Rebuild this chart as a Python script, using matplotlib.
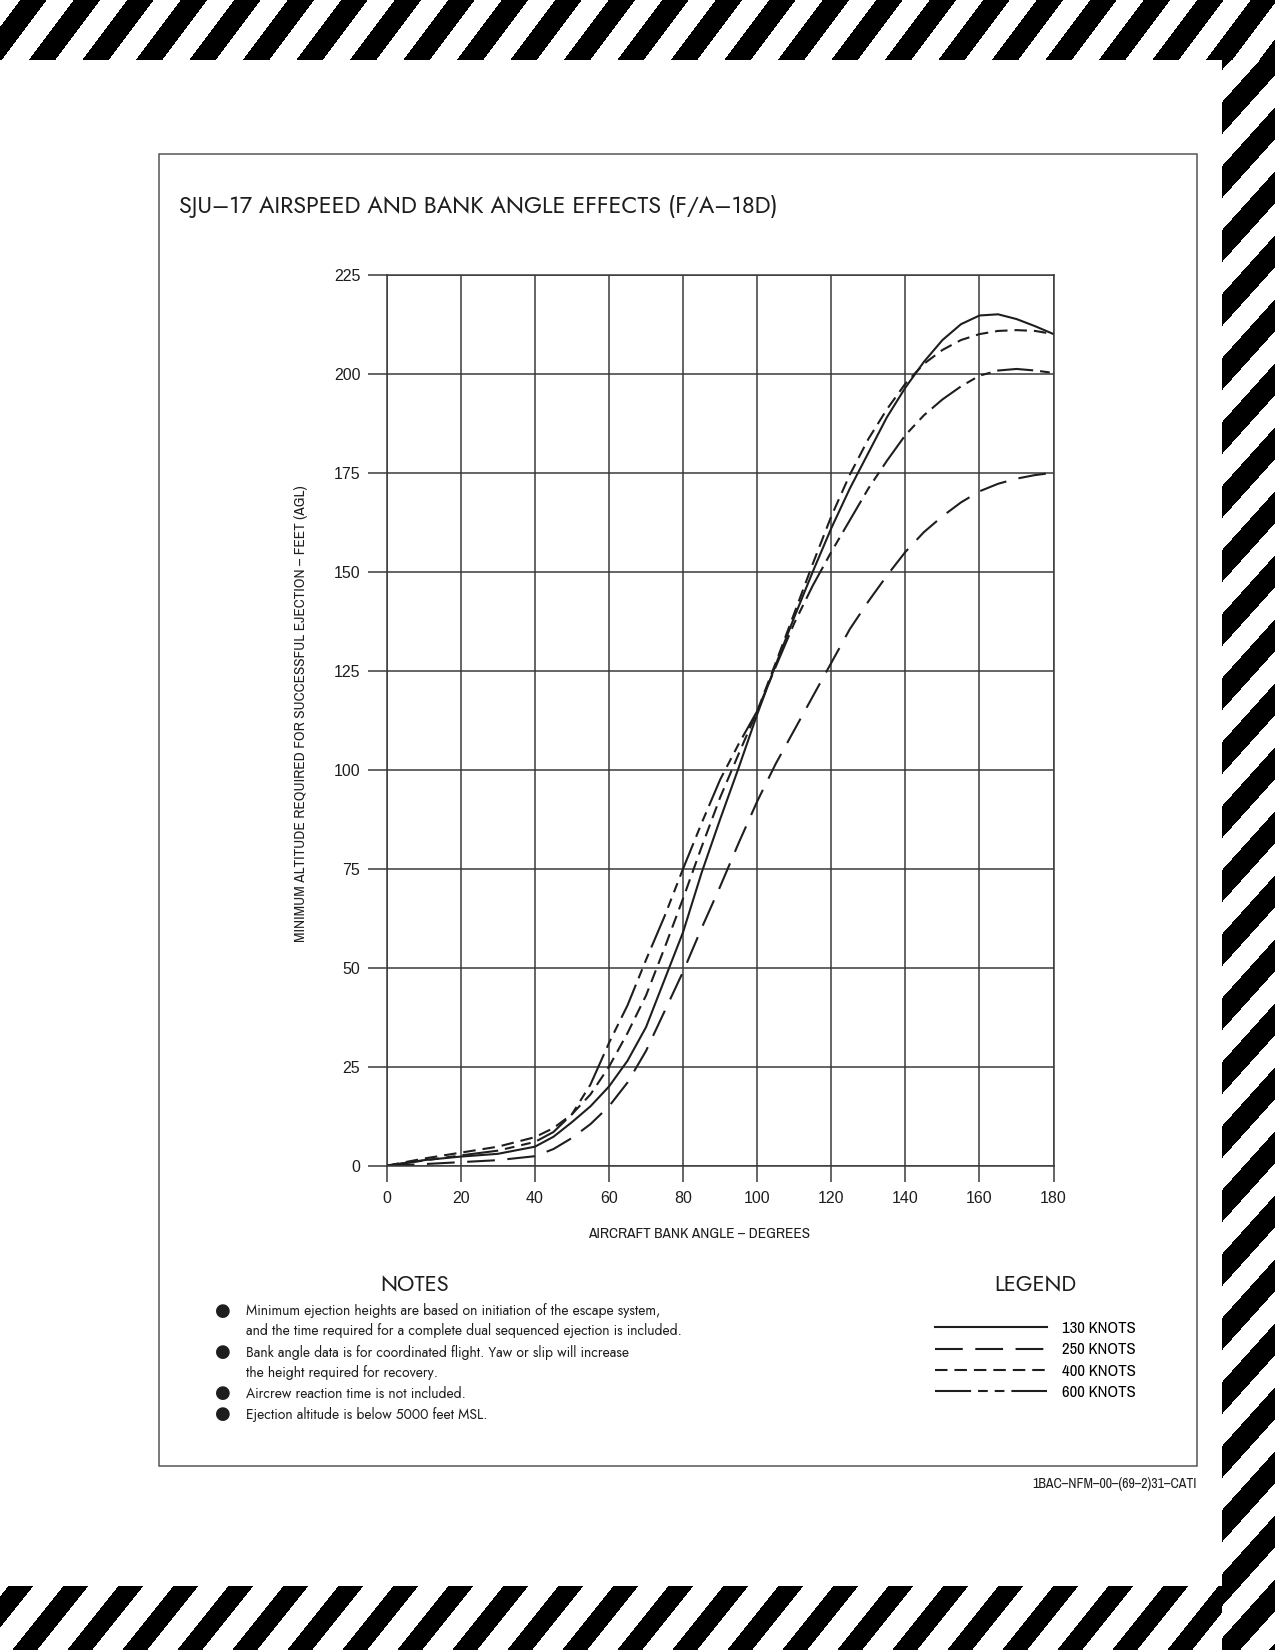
import numpy as np
import matplotlib
matplotlib.use("Agg")
import matplotlib.pyplot as plt
from matplotlib import font_manager
from matplotlib.patches import Rectangle

W, H = 1275, 1650

# values (bank angle in degrees, altitude in feet AGL)
bank_angle = [0, 10, 20, 30, 40, 45, 50, 55, 60, 65, 70, 75, 80, 85, 90, 95, 100,
              105, 110, 115, 120, 125, 130, 135, 140, 145, 150, 155, 160, 165, 170, 175, 180]
alt_130 = [0, 1.4, 2.3, 3.0, 4.8, 7.3, 11, 15, 20, 26.5, 35, 47, 59, 74, 87.5, 100.5, 114,
           126.5, 138.5, 150, 161, 171, 180, 189, 196.5, 203, 208.5, 212.5, 214.7, 215, 213.8, 212, 210]
alt_250 = [0, 0.4, 0.9, 1.4, 2.4, 4.2, 7, 10.5, 15, 21, 29, 39, 49, 60, 70.5, 81.5, 92,
           101.5, 110, 118.5, 127, 135.5, 142.5, 149, 155, 160, 164, 167.5, 170.3, 172.2, 173.5, 174.4, 175]
alt_400 = [0, 1.8, 3.3, 4.8, 7.2, 9.5, 13, 18, 25, 33.5, 43, 55, 67.5, 80.5, 93, 104, 114.8,
           127, 139.5, 152, 164, 174.5, 183.5, 191, 197.5, 202.5, 206, 208.5, 210, 210.8, 211, 210.8, 210]
alt_600 = [0, 1.3, 2.6, 3.8, 6, 8.5, 13, 20.5, 31, 40.5, 52, 63, 75, 86.5, 97.5, 106.5, 114.8,
           126, 137, 146.5, 155, 163, 171, 178, 184.5, 189.5, 193.5, 196.8, 199.5, 200.8, 201.2, 200.8, 200.2]

series_labels = ["130 KNOTS", "250 KNOTS", "400 KNOTS", "600 KNOTS"]
x_ticks = [0, 20, 40, 60, 80, 100, 120, 140, 160, 180]
y_ticks = [0, 25, 50, 75, 100, 125, 150, 175, 200, 225]

title = "SJU\u201317 AIRSPEED AND BANK ANGLE EFFECTS (F/A\u201318D)"
x_label = "AIRCRAFT BANK ANGLE \u2013 DEGREES"
y_label = "MINIMUM ALTITUDE REQUIRED FOR SUCCESSFUL EJECTION \u2013 FEET (AGL)"
notes = [
    ("Minimum ejection heights are based on initiation of the escape system,", True),
    ("and the time required for a complete dual sequenced ejection is included.", False),
    ("Bank angle data is for coordinated flight. Yaw or slip will increase", True),
    ("the height required for recovery.", False),
    ("Aircrew reaction time is not included.", True),
    ("Ejection altitude is below 5000 feet MSL.", True),
]
footer = "1BAC\u2013NFM\u201300\u2013(69\u20132)31\u2013CATI"

names = {f.name for f in font_manager.fontManager.ttflist}
NARROW = "Archivo Narrow" if "Archivo Narrow" in names else "Liberation Sans"
GOTHIC = "Jost" if "Jost" in names else "DejaVu Sans"

INK = "#1e1e1e"
GRID = "#3a3a3a"
plt.rcParams["lines.scale_dashes"] = False


def fx(px):
    return px / W


def fy(py):
    return 1 - py / H


fig = plt.figure(figsize=(W / 100, H / 100), dpi=100)

# hazard stripes round the page
rr, cc = np.mgrid[0:H, 0:W].astype(float)
black = np.zeros((H, W), bool)
black |= (rr < 60) & (((cc + 0.75 * rr - 73) % 53.5) < 26.5)
black |= (cc >= 1222) & (rr >= 60) & (((rr + (cc - 1223) / 0.9 - 100) % 64) < 32)
black |= (rr >= 1586) & (cc < 1222) & (((cc + 0.8 * rr - 1106.7 - 0.8 * 1587) % 55) < 25)
img = np.where(black, 0, 255).astype(np.uint8)
fig.figimage(np.dstack([img] * 3), xo=0, yo=0, origin="upper", zorder=-10)

# frame
fig.patches.append(Rectangle((fx(159), fy(1466)), (1197 - 159) / W, (1466 - 154) / H,
                             transform=fig.transFigure, fill=False, ec="#555555", lw=1.1))

fig.text(fx(179), fy(206), title, ha="left", va="center", fontsize=16.8,
         family=GOTHIC, weight="medium", color=INK)

ax = fig.add_axes([fx(386.7), fy(1165.7), (1053.6 - 386.7) / W, (1165.7 - 274.7) / H])
ax.set_facecolor("white")
styles = [
    (alt_130, "-"),
    (alt_250, (0, (20, 9))),
    (alt_400, (0, (9, 5))),
    (alt_600, (0, (26, 5, 7, 5, 7, 5))),
]
handles = []
for (vals, ls), lab in zip(styles, series_labels):
    ln, = ax.plot(bank_angle, vals, color=INK, lw=1.5, linestyle=ls, label=lab)
    handles.append(ln)

ax.set_xlim(0, 180)
ax.set_ylim(0, 225)
ax.set_xticks(x_ticks)
ax.set_yticks(y_ticks)
ax.set_axisbelow(True)
ax.grid(True, color=GRID, lw=1.1)
for sp in ax.spines.values():
    sp.set_color(GRID)
    sp.set_linewidth(1.1)
ax.tick_params(axis="x", direction="out", length=11.5, width=1.1, color=GRID, pad=7,
               labelsize=11.5, labelcolor=INK)
ax.tick_params(axis="y", direction="out", length=14, width=1.1, color=GRID, pad=5,
               labelsize=11.5, labelcolor=INK)
for lab in ax.get_xticklabels() + ax.get_yticklabels():
    lab.set_family("Liberation Sans")

fig.text(fx(698.6), fy(1234), x_label, ha="center", va="center",
         fontsize=11, family=NARROW, color=INK)
fig.text(fx(301), fy(714), y_label, ha="center", va="center", rotation=90,
         fontsize=11, family=NARROW, color=INK)

# notes block
fig.text(fx(414.6), fy(1285), "NOTES", ha="center", va="center", fontsize=15.8,
         family=GOTHIC, weight="medium", color=INK)
note_y = [1311, 1331, 1352, 1372, 1393, 1414]
for (txt, bullet), y in zip(notes, note_y):
    if bullet:
        fig.text(fx(223), fy(y), "\u25cf", ha="center", va="center", fontsize=13,
                 family="DejaVu Sans", color=INK)
    fig.text(fx(246), fy(y), txt, ha="left", va="center", fontsize=10,
             family=GOTHIC, weight="medium", color=INK)

# legend block
fig.text(fx(1035), fy(1285), "LEGEND", ha="center", va="center", fontsize=15.6,
         family=GOTHIC, weight="medium", color=INK)
fig.legend(handles=handles, loc="upper left", bbox_to_anchor=(fx(935), fy(1321)),
           frameon=False, handlelength=6.7, handletextpad=0.9, borderpad=0,
           borderaxespad=0, labelspacing=0.38,
           prop={"family": NARROW, "size": 12})

fig.text(fx(1197), fy(1484), footer, ha="right", va="center", fontsize=10,
         weight="bold", family=NARROW, color=INK)

fig.savefig("out.png", dpi=100)
